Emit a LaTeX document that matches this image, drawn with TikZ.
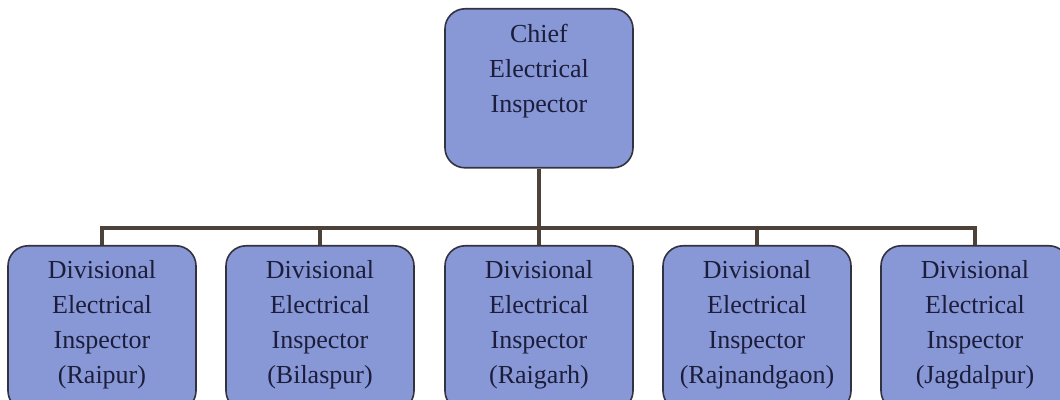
\documentclass[tikz,border=0pt]{standalone}
\usepackage{fontspec}
\setmainfont{Liberation Serif}
\definecolor{boxfill}{RGB}{136,152,214}
\definecolor{boxline}{RGB}{50,50,64}
\definecolor{linkline}{RGB}{77,66,57}
\definecolor{boxtext}{RGB}{28,29,58}
\begin{document}
\begin{tikzpicture}[x=1pt,y=1pt,
  office/.style={draw=boxline,fill=boxfill,line width=1.6pt,rounded corners=20pt,
    inner sep=0pt,text width=188pt,align=center,text=boxtext,
    font=\fontsize{26}{35}\selectfont,text height=34pt,text depth=125pt,anchor=north},
  division/.style={office,text height=33pt,text depth=132pt},
  link/.style={draw=linkline,line width=4pt}]
  \useasboundingbox (0,0) rectangle (1060,399);

  \node[office] (chief) at (539,391) {Chief\\Electrical\\Inspector};

  \node[division] (raipur) at (102,154) {Divisional\\Electrical\\Inspector\\(Raipur)};
  \node[division] (bilaspur) at (320,154) {Divisional\\Electrical\\Inspector\\(Bilaspur)};
  \node[division] (raigarh) at (539,154) {Divisional\\Electrical\\Inspector\\(Raigarh)};
  \node[division] (rajnandgaon) at (757,154) {Divisional\\Electrical\\Inspector\\(Rajnandgaon)};
  \node[division] (jagdalpur) at (975,154) {Divisional\\Electrical\\Inspector\\(Jagdalpur)};

  \coordinate (bar) at (539,171);
  \draw[link] (chief.south) -- (bar);
  \draw[link] (raipur.north) |- (bar) -| (jagdalpur.north);
  \foreach \n in {bilaspur,raigarh,rajnandgaon}
    \draw[link] (\n.north) -- (\n.north |- bar);
\end{tikzpicture}
\end{document}
